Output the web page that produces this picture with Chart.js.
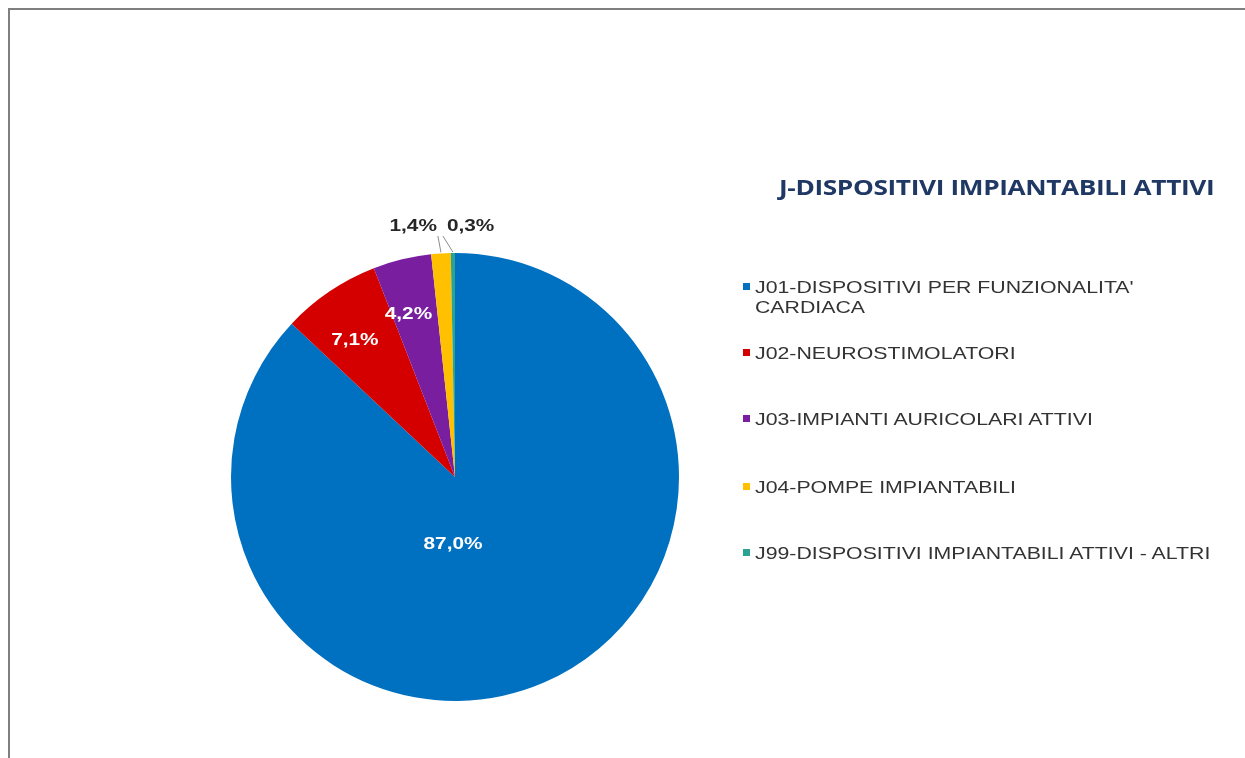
<!DOCTYPE html>
<html>
<head>
<meta charset="utf-8">
<script src="https://cdn.jsdelivr.net/npm/chart.js@4.4.1/dist/chart.umd.min.js"></script>
<style>
  html, body { margin: 0; padding: 0; background: #fff; }
  #wrap { position: relative; width: 1245px; height: 758px; overflow: hidden; }
  #frame { position: absolute; left: 8px; top: 8px; width: 1300px; height: 800px;
           border-top: 2px solid #7f7f7f; border-left: 2px solid #7f7f7f; box-sizing: border-box; }
  #c { position: absolute; left: 0; top: 0; }
  #title { position: absolute; left: 779px; top: 172px; white-space: nowrap;
           font-family: "Open Sans", sans-serif; font-weight: 700; font-size: 21.5px;
           color: #1f3864; letter-spacing: -0.3px; transform: scaleX(1.22); transform-origin: 0 0; }
  .lg { position: absolute; left: 743px; font-family: "Liberation Sans", Arial, sans-serif;
        font-size: 16.5px; color: #333333; line-height: 20px; }
  .lg .sw { position: absolute; left: 0; top: 6px; width: 7px; height: 7px; }
  .lg .tx { position: absolute; left: 12px; top: 0; white-space: nowrap;
            transform: scaleX(1.29); transform-origin: 0 0; }
</style>
</head>
<body>
<div id="wrap">
  <div id="frame"></div>
  <canvas id="c" width="1245" height="758"></canvas>
  <div id="title">J-DISPOSITIVI IMPIANTABILI ATTIVI</div>
  <div id="legend"></div>
</div>
<script>
const chartTitle = "J-DISPOSITIVI IMPIANTABILI ATTIVI";
const categories = [
  "J01-DISPOSITIVI PER FUNZIONALITA' CARDIACA",
  "J02-NEUROSTIMOLATORI",
  "J03-IMPIANTI AURICOLARI ATTIVI",
  "J04-POMPE IMPIANTABILI",
  "J99-DISPOSITIVI IMPIANTABILI ATTIVI - ALTRI"
];
const legendLines = [
  ["J01-DISPOSITIVI PER FUNZIONALITA'", "CARDIACA"],
  ["J02-NEUROSTIMOLATORI"],
  ["J03-IMPIANTI AURICOLARI ATTIVI"],
  ["J04-POMPE IMPIANTABILI"],
  ["J99-DISPOSITIVI IMPIANTABILI ATTIVI - ALTRI"]
];
const values = [87.0, 7.1, 4.2, 1.4, 0.3];
const valueLabels = ["87,0%", "7,1%", "4,2%", "1,4%", "0,3%"];
const colors = ["#0070c0", "#d40000", "#7a1ea0", "#ffc000", "#2ba393"];

// legend (HTML text)
const legendTops = [277, 343, 409, 477, 543];
const lg = document.getElementById('legend');
legendLines.forEach((lines, i) => {
  const d = document.createElement('div');
  d.className = 'lg';
  d.style.top = legendTops[i] + 'px';
  d.innerHTML = '<div class="sw" style="background:' + colors[i] + '"></div><div class="tx">' +
    lines.join('<br>') + '</div>';
  lg.appendChild(d);
});

function drawStretched(ctx, text, x, y, align, sx) {
  const w = ctx.measureText(text).width * sx;
  let left = x;
  if (align === 'center') left = x - w / 2;
  else if (align === 'right') left = x - w;
  ctx.save();
  ctx.translate(left, y);
  ctx.scale(sx, 1);
  ctx.textAlign = 'left';
  ctx.fillText(text, 0, 0);
  ctx.restore();
}

const labelPlugin = {
  id: 'sliceLabels',
  afterDatasetsDraw(chart) {
    const ctx = chart.ctx;
    const meta = chart.getDatasetMeta(0);
    const SX = 1.3;
    ctx.save();
    ctx.font = 'bold 16px "Liberation Sans", Arial, sans-serif';
    ctx.textBaseline = 'middle';
    meta.data.forEach((arc, i) => {
      const p = arc.getProps(['x', 'y', 'startAngle', 'endAngle', 'outerRadius'], true);
      const mid = (p.startAngle + p.endAngle) / 2;
      const R = p.outerRadius;
      if (i === 0) {
        ctx.fillStyle = '#ffffff';
        drawStretched(ctx, valueLabels[i], p.x - 2, p.y + R * 0.3, 'center', SX);
      } else if (values[i] >= 3) {
        ctx.fillStyle = '#ffffff';
        const a = mid - 0.04;
        const r = R * 0.755;
        drawStretched(ctx, valueLabels[i], p.x + Math.cos(a) * r, p.y + Math.sin(a) * r, 'center', SX);
      } else {
        // outside label with leader line
        const ex = p.x + Math.cos(mid) * R, ey = p.y + Math.sin(mid) * R;
        const side = i === 3 ? -1 : 1;
        const lx = i === 3 ? ex - 3 : ex - 10;
        const ly = p.y - R - 21;
        ctx.strokeStyle = '#8c8c8c';
        ctx.lineWidth = 1;
        ctx.beginPath();
        ctx.moveTo(ex, ey - 1);
        ctx.lineTo(lx, ly + 4);
        ctx.stroke();
        ctx.fillStyle = '#262626';
        drawStretched(ctx, valueLabels[i], lx + side * (i === 3 ? 1 : 4), ly - 5, side < 0 ? 'right' : 'left', SX);
      }
    });
    ctx.restore();
  }
};

new Chart(document.getElementById('c'), {
  type: 'pie',
  data: {
    labels: categories,
    datasets: [{
      data: values,
      backgroundColor: colors,
      borderColor: '#ffffff',
      borderWidth: 0
    }]
  },
  options: {
    responsive: false,
    animation: false,
    rotation: 0,
    layout: { padding: { left: 231, right: 566, top: 253, bottom: 57 } },
    plugins: { legend: { display: false }, tooltip: { enabled: false }, title: { display: false } }
  },
  plugins: [labelPlugin]
});
</script>
</body>
</html>
